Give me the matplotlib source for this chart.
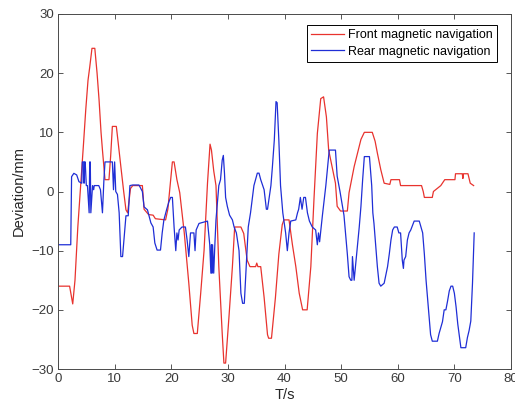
import matplotlib
matplotlib.use("Agg")
import matplotlib.pyplot as plt

# ---- data ----
front_t = [0, 2.05, 2.6, 3.0, 3.5, 4.0, 4.5, 4.9, 5.3, 5.6, 6.0, 6.5, 6.9, 7.25, 7.6, 7.85,
           8.3, 9.0, 9.3, 9.6, 10.3, 10.6, 11.1, 11.6, 12.0, 12.3, 12.8, 13.2, 14.9, 15.2,
           16.0, 16.8, 17.2, 19.0, 19.4, 19.8, 20.2, 20.5, 21.0, 21.5, 22.3, 23.1, 23.7,
           24.0, 24.6, 25.2, 25.8, 26.4, 26.85, 27.1, 27.5, 27.9, 28.4, 29.0, 29.3, 29.6,
           30.2, 30.8, 31.2, 32.3, 32.8, 33.4, 33.9, 34.9, 35.1, 35.3, 35.8, 36.4, 37.0,
           37.2, 37.7, 38.4, 39.0, 39.6, 39.9, 40.8, 41.4, 42.0, 42.6, 43.2, 44.0, 44.65,
           45.2, 45.8, 46.4, 46.9, 47.4, 47.8, 48.4, 49.0, 49.3, 49.9, 51.1, 51.4, 52.3,
           52.9, 53.5, 54.1, 55.5, 56.0, 56.4, 57.0, 57.6, 58.6, 58.8, 60.3, 60.5, 64.2,
           64.5, 64.7, 66.1, 66.3, 67.6, 68.3, 70.1, 70.2, 71.4, 71.5, 71.6, 72.4, 72.8, 73.4]
front_dev = [-16, -16, -19, -15, -6, 1, 8, 13.8, 18.8, 21, 24.2, 24.2, 20, 15.5, 10, 7,
             2, 2, 6, 11, 11, 8.5, 4.2, 0, -3.1, -3.6, 0.5, 1, 1, -3,
             -3.9, -4, -4.6, -4.8, -3, 1, 5, 5, 2, -0.2, -7, -15.5, -22.6,
             -24, -24, -17.2, -9.9, 1.4, 8, 7, 3.5, 1, -12.7, -24, -29, -29,
             -21.1, -12.7, -6, -6, -7.1, -11.6, -12.7, -12.7, -12.1, -12.7, -12.7, -17.9, -24.2,
             -24.8, -24.8, -17.9, -10.6, -5.6, -4.8, -4.8, -9, -12.7, -17.2, -20, -20, -12.7,
             -1.4, 9.8, 15.7, 16, 12.6, 7, 4.2, 1.4, -2.5, -3.3, -3.3, -0.2, 4.2,
             6.5, 8.8, 10, 10, 8.5, 6.5, 3.7, 1.4, 1.2, 2, 2, 1, 1,
             0, -1, -1, 0, 1, 2, 2, 3, 3, 2.2, 3, 3, 1.4, 1]

rear_t = [0, 2.25, 2.4, 2.8, 3.3, 3.7, 4.2, 4.3, 4.55, 4.6, 4.7, 4.8, 5.0, 5.2, 5.5, 5.6,
          5.7, 5.8, 6.1, 6.3, 6.4, 7.2, 7.5, 7.85, 8.1, 8.3, 9.6, 9.8, 10.0, 10.2, 10.5,
          10.8, 11.1, 11.4, 11.7, 12.0, 12.4, 12.7, 13.2, 14.3, 14.9, 15.2, 15.8, 16.4,
          16.8, 17.1, 17.5, 18.1, 18.4, 18.7, 19.2, 19.6, 19.9, 20.2, 20.5, 20.8, 21.0,
          21.2, 21.4, 21.9, 22.5, 22.8, 23.1, 23.4, 24.0, 24.2, 24.4, 24.9, 26.4, 26.8,
          27.0, 27.1, 27.2, 27.3, 27.5, 27.7, 27.9, 28.4, 28.7, 29.0, 29.2, 29.4, 29.6,
          29.9, 30.3, 30.8, 31.1, 31.5, 31.97, 32.3, 32.6, 32.9, 33.3, 33.6, 34.0, 34.6,
          35.2, 35.5, 35.8, 36.4, 36.8, 37.0, 37.3, 37.6, 37.85, 38.2, 38.5, 38.7, 39.0,
          39.3, 39.7, 40.2, 40.5, 40.8, 41.1, 42.0, 42.3, 42.5, 42.8, 43.1, 43.4, 43.7,
          44.05, 44.4, 44.9, 45.5, 45.8, 46.0, 46.2, 46.7, 47.3, 47.9, 49.0, 49.3, 49.8,
          50.5, 51.1, 51.4, 51.7, 51.9, 52.0, 52.3, 52.6, 53.2, 53.5, 53.8, 54.1, 55.0,
          55.4, 55.6, 55.8, 56.1, 56.4, 56.7, 57.0, 57.6, 58.2, 58.5, 58.8, 59.1, 59.4,
          59.9, 60.2, 60.5, 60.8, 61.0, 61.1, 61.4, 61.7, 62.0, 62.3, 62.9, 63.8, 64.4,
          64.7, 65.0, 65.3, 65.6, 65.8, 66.1, 67.0, 67.3, 67.6, 67.9, 68.2, 68.5, 68.8,
          69.1, 69.4, 69.7, 70.0, 70.3, 70.6, 70.9, 71.15, 72.0, 72.3, 72.6, 72.9, 73.2, 73.5]
rear_dev = [-9, -9, 2.5, 3.07, 2.8, 1.66, 1.4, 5, 5, 1.4, 5, 5, 1, 1, -3.6, 5,
            5, -3.6, 1, 0.3, 1, 1, 0.3, -3.6, 1.8, 5, 5, 0.3, 5, 0, -0.5,
            -3.6, -11, -11, -7.6, -4.1, -4.1, 1, 1.1, 1.1, 0, -2.6, -3.1, -5.3,
            -6, -8.7, -9.9, -9.9, -7, -4.8, -3, -1.7, -1, -1, -6, -10, -7,
            -8.2, -6.5, -6, -6, -8.2, -11, -7, -7, -10, -6.5, -5.4, -5, -9,
            -13.8, -9, -13.8, -9, -13.8, -9, -4.8, 1, 2, 5.3, 6.1, 3.1, -1,
            -2.5, -4, -4.8, -6, -7, -10, -17.2, -18.9, -18.9, -11.6, -6, -3.6, 1,
            3.1, 3.1, 2, 0.3, -3, -3, -1, 1, 4, 8.7, 15.2, 15, 8.7,
            1, -3.6, -7, -10, -7, -5, -4.8, -3.6, -3, -1, -3, -1, -1,
            -3.6, -5, -6, -6.5, -9, -7, -8.5, -4, 1, 7, 7, 2.6, 0,
            -4, -10.6, -14.4, -15, -15, -11, -15, -12, -6, -2.5, 2, 5.9, 5.9,
            1, -3.6, -5.4, -9, -12.7, -15.5, -16, -15.5, -12.7, -10.6, -8.2, -6.5, -6,
            -6, -7, -7, -11.6, -13, -11.6, -11, -8.2, -7, -6.5, -5, -5, -7,
            -10.6, -15, -18.5, -22, -24.2, -25.3, -25.3, -24, -23, -22, -20, -20, -18.5,
            -16.8, -16, -16, -17.2, -19.5, -22.4, -24.6, -26.4, -26.4, -24.7, -23.5, -21.9, -15.5, -7]

series_labels = ["Front magnetic navigation", "Rear magnetic navigation"]
x_ticks = [0, 10, 20, 30, 40, 50, 60, 70, 80]
y_ticks = [-30, -20, -10, 0, 10, 20, 30]

plt.rcParams['font.family'] = ['Liberation Sans', 'DejaVu Sans']

fig = plt.figure(figsize=(5.15, 4.16), dpi=100)
ax = fig.add_axes([58/515, 1-369/416, (511-58)/515, (369-14)/416])

ax.plot(front_t, front_dev, color='#e8332e', lw=0.9, label=series_labels[0])
ax.plot(rear_t, rear_dev, color='#1f2ed6', lw=0.9, label=series_labels[1])

ax.set_xlim(0, 80)
ax.set_ylim(-30, 30)
ax.set_xticks(x_ticks)
ax.set_yticks(y_ticks)
ax.tick_params(direction='in', top=True, right=True, length=3.5, width=0.6,
               labelsize=9.5, colors='#3a3a3a', pad=3)
for sp in ax.spines.values():
    sp.set_linewidth(0.7)
    sp.set_color('#4a4a4a')

ax.set_xlabel('T/s', fontsize=10.5, color='#262626', labelpad=2)
ax.set_ylabel('Deviation/mm', fontsize=10.5, color='#262626', labelpad=4)

leg = ax.legend(loc='upper right', bbox_to_anchor=(0.969, 0.969), borderaxespad=0,
                fontsize=9, handlelength=2.65, handletextpad=0.3, labelspacing=0.35,
                fancybox=False, framealpha=1, edgecolor='black', borderpad=0.35)
leg.get_frame().set_linewidth(0.7)

fig.savefig('out.png', dpi=100)
